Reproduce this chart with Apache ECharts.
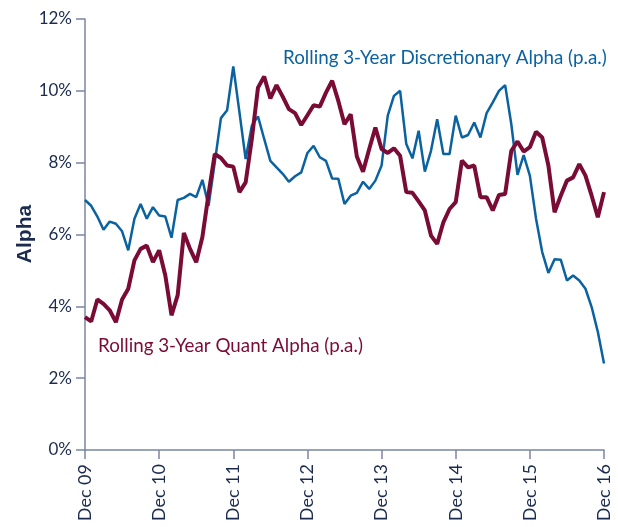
<!DOCTYPE html>
<html>
<head>
<meta charset="utf-8">
<script src="https://cdn.jsdelivr.net/npm/echarts@6/dist/echarts.min.js"></script>
<style>
  html, body { margin: 0; padding: 0; background: #fff; }
  #chart { width: 618px; height: 527px; }
</style>
</head>
<body>
<div id="chart"></div>
<script>
// monthly, Dec 09 .. Dec 16
var startYear = 2009;
var monthCount = 85;
var tickLabels = ['Dec 09', 'Dec 10', 'Dec 11', 'Dec 12', 'Dec 13', 'Dec 14', 'Dec 15', 'Dec 16'];

var discretionary = [
  6.96, 6.80, 6.50, 6.13, 6.36, 6.30, 6.09, 5.56, 6.44, 6.85, 6.44, 6.76,
  6.53, 6.50, 5.91, 6.96, 7.02, 7.13, 7.04, 7.52, 6.80, 8.00, 9.24, 9.46,
  10.68, 9.40, 8.10, 9.03, 9.29, 8.66, 8.05, 7.87, 7.69, 7.47, 7.62, 7.73,
  8.27, 8.47, 8.15, 8.05, 7.56, 7.55, 6.85, 7.08, 7.16, 7.47, 7.27, 7.50,
  7.92, 9.31, 9.86, 10.00, 8.52, 8.12, 8.89, 7.75, 8.33, 9.21, 8.24, 8.24,
  9.31, 8.70, 8.77, 9.12, 8.70, 9.38, 9.68, 10.00, 10.16, 9.07, 7.66, 8.21,
  7.64, 6.44, 5.51, 4.93, 5.31, 5.30, 4.72, 4.86, 4.72, 4.49, 3.98, 3.29,
  2.41
];

var quant = [
  3.70, 3.58, 4.19, 4.07, 3.89, 3.56, 4.19, 4.49, 5.28, 5.60, 5.69, 5.23,
  5.56, 4.86, 3.75, 4.31, 6.04, 5.60, 5.23, 5.93, 7.13, 8.24, 8.13, 7.92,
  7.89, 7.18, 7.45, 8.66, 10.09, 10.40, 9.79, 10.16, 9.84, 9.49, 9.38, 9.05,
  9.32, 9.60, 9.56, 9.95, 10.28, 9.72, 9.07, 9.35, 8.17, 7.75, 8.38, 8.98,
  8.38, 8.27, 8.40, 8.19, 7.18, 7.16, 6.92, 6.67, 5.97, 5.74, 6.34, 6.71,
  6.90, 8.06, 7.87, 7.92, 7.04, 7.04, 6.67, 7.10, 7.13, 8.33, 8.59, 8.31,
  8.43, 8.86, 8.70, 7.92, 6.62, 7.08, 7.50, 7.59, 7.96, 7.64, 7.08, 6.48,
  7.18
];

var months = [];
for (var i = 0; i < monthCount; i++) {
  months.push(startYear + '-' + (((11 + i) % 12) + 1));
}

var navy = '#1b2b4f';
var axisGrey = '#7b86a0';
var blue = '#0b62a0';
var maroon = '#7a0b35';
var font = 'Lato';

var chart = echarts.init(document.getElementById('chart'));
chart.setOption({
  animation: false,
  grid: { left: 85, right: 14, top: 19, bottom: 77 },
  xAxis: {
    type: 'category',
    data: months,
    boundaryGap: false,
    axisLine: { lineStyle: { color: axisGrey, width: 1.5 } },
    axisTick: {
      interval: function(idx) { return idx % 12 === 0; },
      length: 9,
      lineStyle: { color: axisGrey, width: 1.5 }
    },
    axisLabel: {
      interval: function(idx) { return idx % 12 === 0; },
      formatter: function(val, idx) { return tickLabels[idx / 12]; },
      rotate: 90,
      margin: 14,
      color: navy,
      fontFamily: font,
      fontSize: 18
    },
    splitLine: { show: false }
  },
  yAxis: {
    type: 'value',
    min: 0,
    max: 12,
    interval: 2,
    axisLine: { show: true, lineStyle: { color: axisGrey, width: 1.5 } },
    axisTick: { show: true, length: 9, lineStyle: { color: axisGrey, width: 1.5 } },
    axisLabel: {
      formatter: '{value}%',
      margin: 13,
      color: navy,
      fontFamily: font,
      fontSize: 17
    },
    splitLine: { show: false }
  },
  series: [
    {
      name: 'Rolling 3-Year Discretionary Alpha (p.a.)',
      type: 'line',
      data: discretionary,
      symbol: 'none',
      lineStyle: { color: blue, width: 2.5 }
    },
    {
      name: 'Rolling 3-Year Quant Alpha (p.a.)',
      type: 'line',
      data: quant,
      symbol: 'none',
      lineStyle: { color: maroon, width: 4 }
    }
  ],
  graphic: [
    {
      type: 'text',
      x: 25,
      y: 234,
      rotation: Math.PI / 2,
      style: {
        text: 'Alpha',
        fill: navy,
        font: 'bold 21px "Liberation Sans"',
        align: 'center',
        verticalAlign: 'middle'
      }
    },
    {
      type: 'text',
      left: 283,
      top: 48,
      style: {
        text: 'Rolling 3-Year Discretionary Alpha (p.a.)',
        fill: blue,
        font: '18.8px ' + font
      }
    },
    {
      type: 'text',
      left: 98,
      top: 336,
      style: {
        text: 'Rolling 3-Year Quant Alpha (p.a.)',
        fill: maroon,
        font: '18.8px ' + font
      }
    }
  ]
});
</script>
</body>
</html>
